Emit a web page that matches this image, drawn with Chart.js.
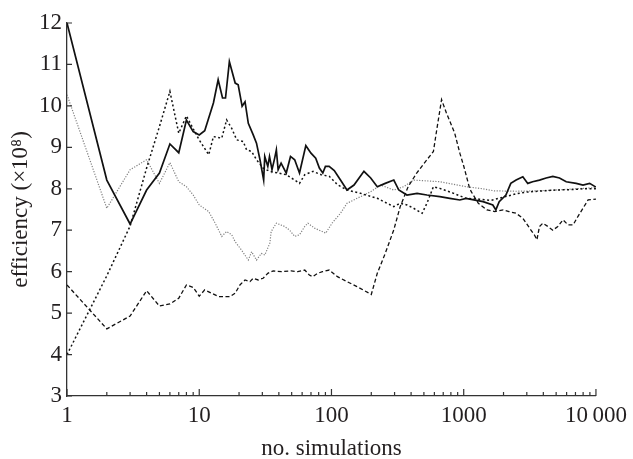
<!DOCTYPE html>
<html>
<head>
<meta charset="utf-8">
<script src="https://cdn.jsdelivr.net/npm/chart.js@4.4.1/dist/chart.umd.min.js"></script>
<style>
    body { margin: 0; background: #ffffff; }
</style>
</head>
<body>
<canvas id="effChart" width="633" height="459"></canvas>
<script>
// ===============================
// Efficiency vs. number of simulations
// ===============================

// ---------- Data ----------

const solidX = [1, 2, 3, 4, 5, 6, 7, 8, 9, 10, 11, 12.8, 13.9, 15, 15.8, 16.9, 18.7, 19.7, 21.1, 22.2,
    23.5, 25.6, 27.1, 28.8, 30.7, 31.3, 33, 34, 35.5, 37.2, 38.3, 39.5, 41.6, 45.5, 49, 52.7, 57.3, 64, 70, 76,
    81, 86, 90, 96, 105, 117, 131, 148, 176, 198, 222, 255, 296, 323, 372, 444, 527, 660, 785, 935,
    1040, 1400, 1660, 1750, 1855, 2085, 2270, 2490, 2800, 3050, 3320, 3740, 4200, 4720, 5300, 5960, 7090, 7980, 8960, 10000];
const solidY = [12.0, 8.21, 7.15, 7.97, 8.38, 9.08, 8.87, 9.66, 9.38, 9.3, 9.4, 10.07, 10.63, 10.19, 10.19, 11.07, 10.55, 10.51, 9.99, 10.1,
    9.58, 9.3, 9.1, 8.7, 8.21, 8.78, 8.54, 8.78, 8.46, 8.74, 8.94, 8.46, 8.62, 8.38, 8.78, 8.7, 8.38, 9.04, 8.86, 8.74,
    8.5, 8.38, 8.54, 8.54, 8.44, 8.21, 7.97, 8.09, 8.42, 8.26, 8.05, 8.13, 8.21, 7.97, 7.85, 7.89, 7.85, 7.81, 7.77, 7.73,
    7.77, 7.69, 7.61, 7.49, 7.69, 7.85, 8.13, 8.21, 8.29, 8.13, 8.17, 8.21, 8.26, 8.3, 8.26, 8.17, 8.13, 8.09, 8.13, 8.04];

const dottedX = [1, 2, 3, 4, 5, 6, 7, 8, 9.9, 11.8, 12.8, 14.8, 16.1, 17.6, 19.2, 21.5, 22.8, 24.9, 27.1, 30.4,
    34.1, 39.4, 45.5, 52.7, 57.3, 62.8, 72.6, 83.5, 96.3, 111, 131, 166, 222, 263, 296, 331, 372, 418, 485, 527,
    590, 660, 840, 1040, 1300, 1600, 2000, 2500, 3000, 4000, 5000, 6500, 8000, 10000];
const dottedY = [4.0, 5.9, 7.1, 8.5, 9.5, 10.35, 9.34, 9.76, 9.2, 8.82, 9.26, 9.22, 9.66, 9.46, 9.18, 9.14, 8.94, 8.9, 8.7, 8.5,
    8.42, 8.38, 8.34, 8.21, 8.13, 8.34, 8.42, 8.34, 8.3, 8.1, 7.97, 7.89, 7.77, 7.65, 7.57, 7.65, 7.61, 7.53, 7.41, 7.65,
    8.05, 8.01, 7.89, 7.77, 7.75, 7.72, 7.8, 7.88, 7.92, 7.95, 7.97, 7.98, 8.0, 8.0];

const greyX = [1, 2, 3, 4, 5, 6, 7, 8, 9, 10, 11.8, 13.2, 14.8, 16.1, 17.6, 18.7, 20.9, 23.5, 24.9, 27.1,
    29.5, 31.3, 34.2, 35, 38.3, 44.3, 48.3, 52.7, 57.3, 62.8, 66.3, 74.5, 90.5, 101, 117, 131, 166, 198, 235, 296,
    352, 418, 660, 1040, 1400, 1700, 2500, 3500, 5000, 7000, 10000];
const greyY = [10.27, 7.53, 8.46, 8.7, 8.13, 8.63, 8.17, 8.05, 7.85, 7.61, 7.45, 7.17, 6.85, 6.97, 6.89, 6.72, 6.52, 6.28, 6.48, 6.28,
    6.44, 6.4, 6.69, 6.97, 7.17, 7.09, 7.0, 6.85, 6.89, 7.09, 7.17, 7.05, 6.93, 7.17, 7.41, 7.65, 7.81, 7.93, 8.09, 7.97,
    8.05, 8.21, 8.17, 8.05, 8.0, 7.95, 7.94, 7.95, 7.97, 8.0, 8.03];

const dashedX = [1, 2, 3, 4, 5, 6, 7, 8, 9, 10, 11, 14, 17.1, 18.7, 20.3, 22.2, 24.2, 25.6, 27.9, 30.4,
    33, 36.3, 41.9, 49.6, 55.6, 62.8, 68, 72.2, 78.5, 85.5, 96.3, 111, 131, 156, 200, 222, 255, 296, 331, 380,
    441, 527, 590, 625, 680, 740, 855, 935, 1000, 1100, 1140, 1290, 1500, 1720, 1990, 2200, 2485, 2800, 3150, 3420,
    3580, 3740, 3970, 4330, 4720, 5150, 5630, 6150, 6720, 7300, 7980, 8720, 10000];
const dashedY = [5.68, 4.62, 4.93, 5.54, 5.17, 5.22, 5.36, 5.68, 5.62, 5.41, 5.56, 5.4, 5.4, 5.48, 5.68, 5.8, 5.76, 5.84, 5.8, 5.84,
    5.96, 6.02, 6.0, 6.02, 6.0, 6.04, 5.92, 5.88, 5.96, 6.0, 6.04, 5.88, 5.76, 5.64, 5.45, 5.96, 6.44, 7.01, 7.57, 8.05,
    8.38, 8.7, 8.9, 9.42, 10.15, 9.83, 9.34, 8.86, 8.55, 8.05, 7.93, 7.65, 7.49, 7.45, 7.49, 7.45, 7.41, 7.29, 7.05, 6.89,
    6.77, 7.09, 7.17, 7.09, 7.0, 7.09, 7.25, 7.13, 7.13, 7.33, 7.53, 7.73, 7.75];

const yTicks = [3, 4, 5, 6, 7, 8, 9, 10, 11, 12];
const xTicks = [1, 10, 100, 1000, 10000];
const xTickLabels = ["1", "10", "100", "1000", "10\u2009000"];
const xMinor = [2, 3, 4, 5, 6, 7, 8, 9];

// ---------- Helpers ----------

const serif = "'Liberation Serif', 'Times New Roman', serif";
const ink = "#231f20";

function pairs(xs, ys) {
    return xs.map((x, i) => ({ x: x, y: ys[i] }));
}

// ticks drawn inside the plot, like the printed figure
const innerTicks = {
    id: "innerTicks",
    afterDraw(chart) {
        const ctx = chart.ctx;
        const sx = chart.scales.x;
        const sy = chart.scales.y;
        const left = chart.chartArea.left;
        const bottom = chart.chartArea.bottom;

        ctx.save();
        ctx.strokeStyle = "#333";
        ctx.lineWidth = 1.2;
        ctx.beginPath();

        yTicks.forEach(v => {
            const p = sy.getPixelForValue(v);
            ctx.moveTo(left, p);
            ctx.lineTo(left + 5, p);
        });

        xTicks.forEach(v => {
            const p = sx.getPixelForValue(v);
            ctx.moveTo(p, bottom);
            ctx.lineTo(p, bottom - 7);
        });

        xTicks.slice(0, -1).forEach(d => {
            xMinor.forEach(m => {
                const p = sx.getPixelForValue(d * m);
                ctx.moveTo(p, bottom);
                ctx.lineTo(p, bottom - 4);
            });
        });

        ctx.stroke();
        ctx.restore();
    }
};

// ---------- Chart ----------

new Chart(document.getElementById("effChart"), {
    type: "line",
    data: {
        datasets: [
            {
                data: pairs(solidX, solidY),
                borderColor: "#111",
                borderWidth: 1.7
            },
            {
                data: pairs(dashedX, dashedY),
                borderColor: "#111",
                borderWidth: 1.3,
                borderDash: [4, 2.5]
            },
            {
                data: pairs(dottedX, dottedY),
                borderColor: "#111",
                borderWidth: 1.5,
                borderDash: [2, 2.5]
            },
            {
                data: pairs(greyX, greyY),
                borderColor: "#808080",
                borderWidth: 1.2,
                borderDash: [1.2, 1.5]
            }
        ]
    },
    options: {
        responsive: false,
        animation: false,
        devicePixelRatio: 1,
        layout: {
            padding: { left: 0, right: 35, top: 23, bottom: 0 }
        },
        elements: {
            point: { radius: 0 },
            line: { tension: 0, fill: false }
        },
        plugins: {
            legend: { display: false },
            tooltip: { enabled: false }
        },
        scales: {
            x: {
                type: "logarithmic",
                min: 1,
                max: 10000,
                afterBuildTicks: s => {
                    s.ticks = xTicks.map(v => ({ value: v, major: true }));
                },
                afterFit: s => { s.height = 63; },
                grid: { display: false, drawTicks: false },
                border: { display: true, color: "#333", width: 1.3 },
                ticks: {
                    callback: (v, i) => xTickLabels[i],
                    color: ink,
                    font: { family: serif, size: 23 },
                    padding: 6,
                    maxRotation: 0,
                    autoSkip: false
                },
                title: {
                    display: true,
                    text: "no. simulations",
                    color: ink,
                    font: { family: serif, size: 23, lineHeight: 0.9 },
                    padding: 0
                }
            },
            y: {
                type: "linear",
                min: 3,
                max: 12,
                afterFit: s => { s.width = 67; },
                grid: { display: false, drawTicks: false },
                border: { display: true, color: "#333", width: 1.3 },
                ticks: {
                    stepSize: 1,
                    color: ink,
                    font: { family: serif, size: 23 },
                    padding: 5
                },
                title: {
                    display: true,
                    text: "efficiency (\u00d710\u2078)",
                    color: ink,
                    font: { family: serif, size: 23 },
                    padding: { top: 7, bottom: 0 }
                }
            }
        }
    },
    plugins: [innerTicks]
});
</script>
</body>
</html>
